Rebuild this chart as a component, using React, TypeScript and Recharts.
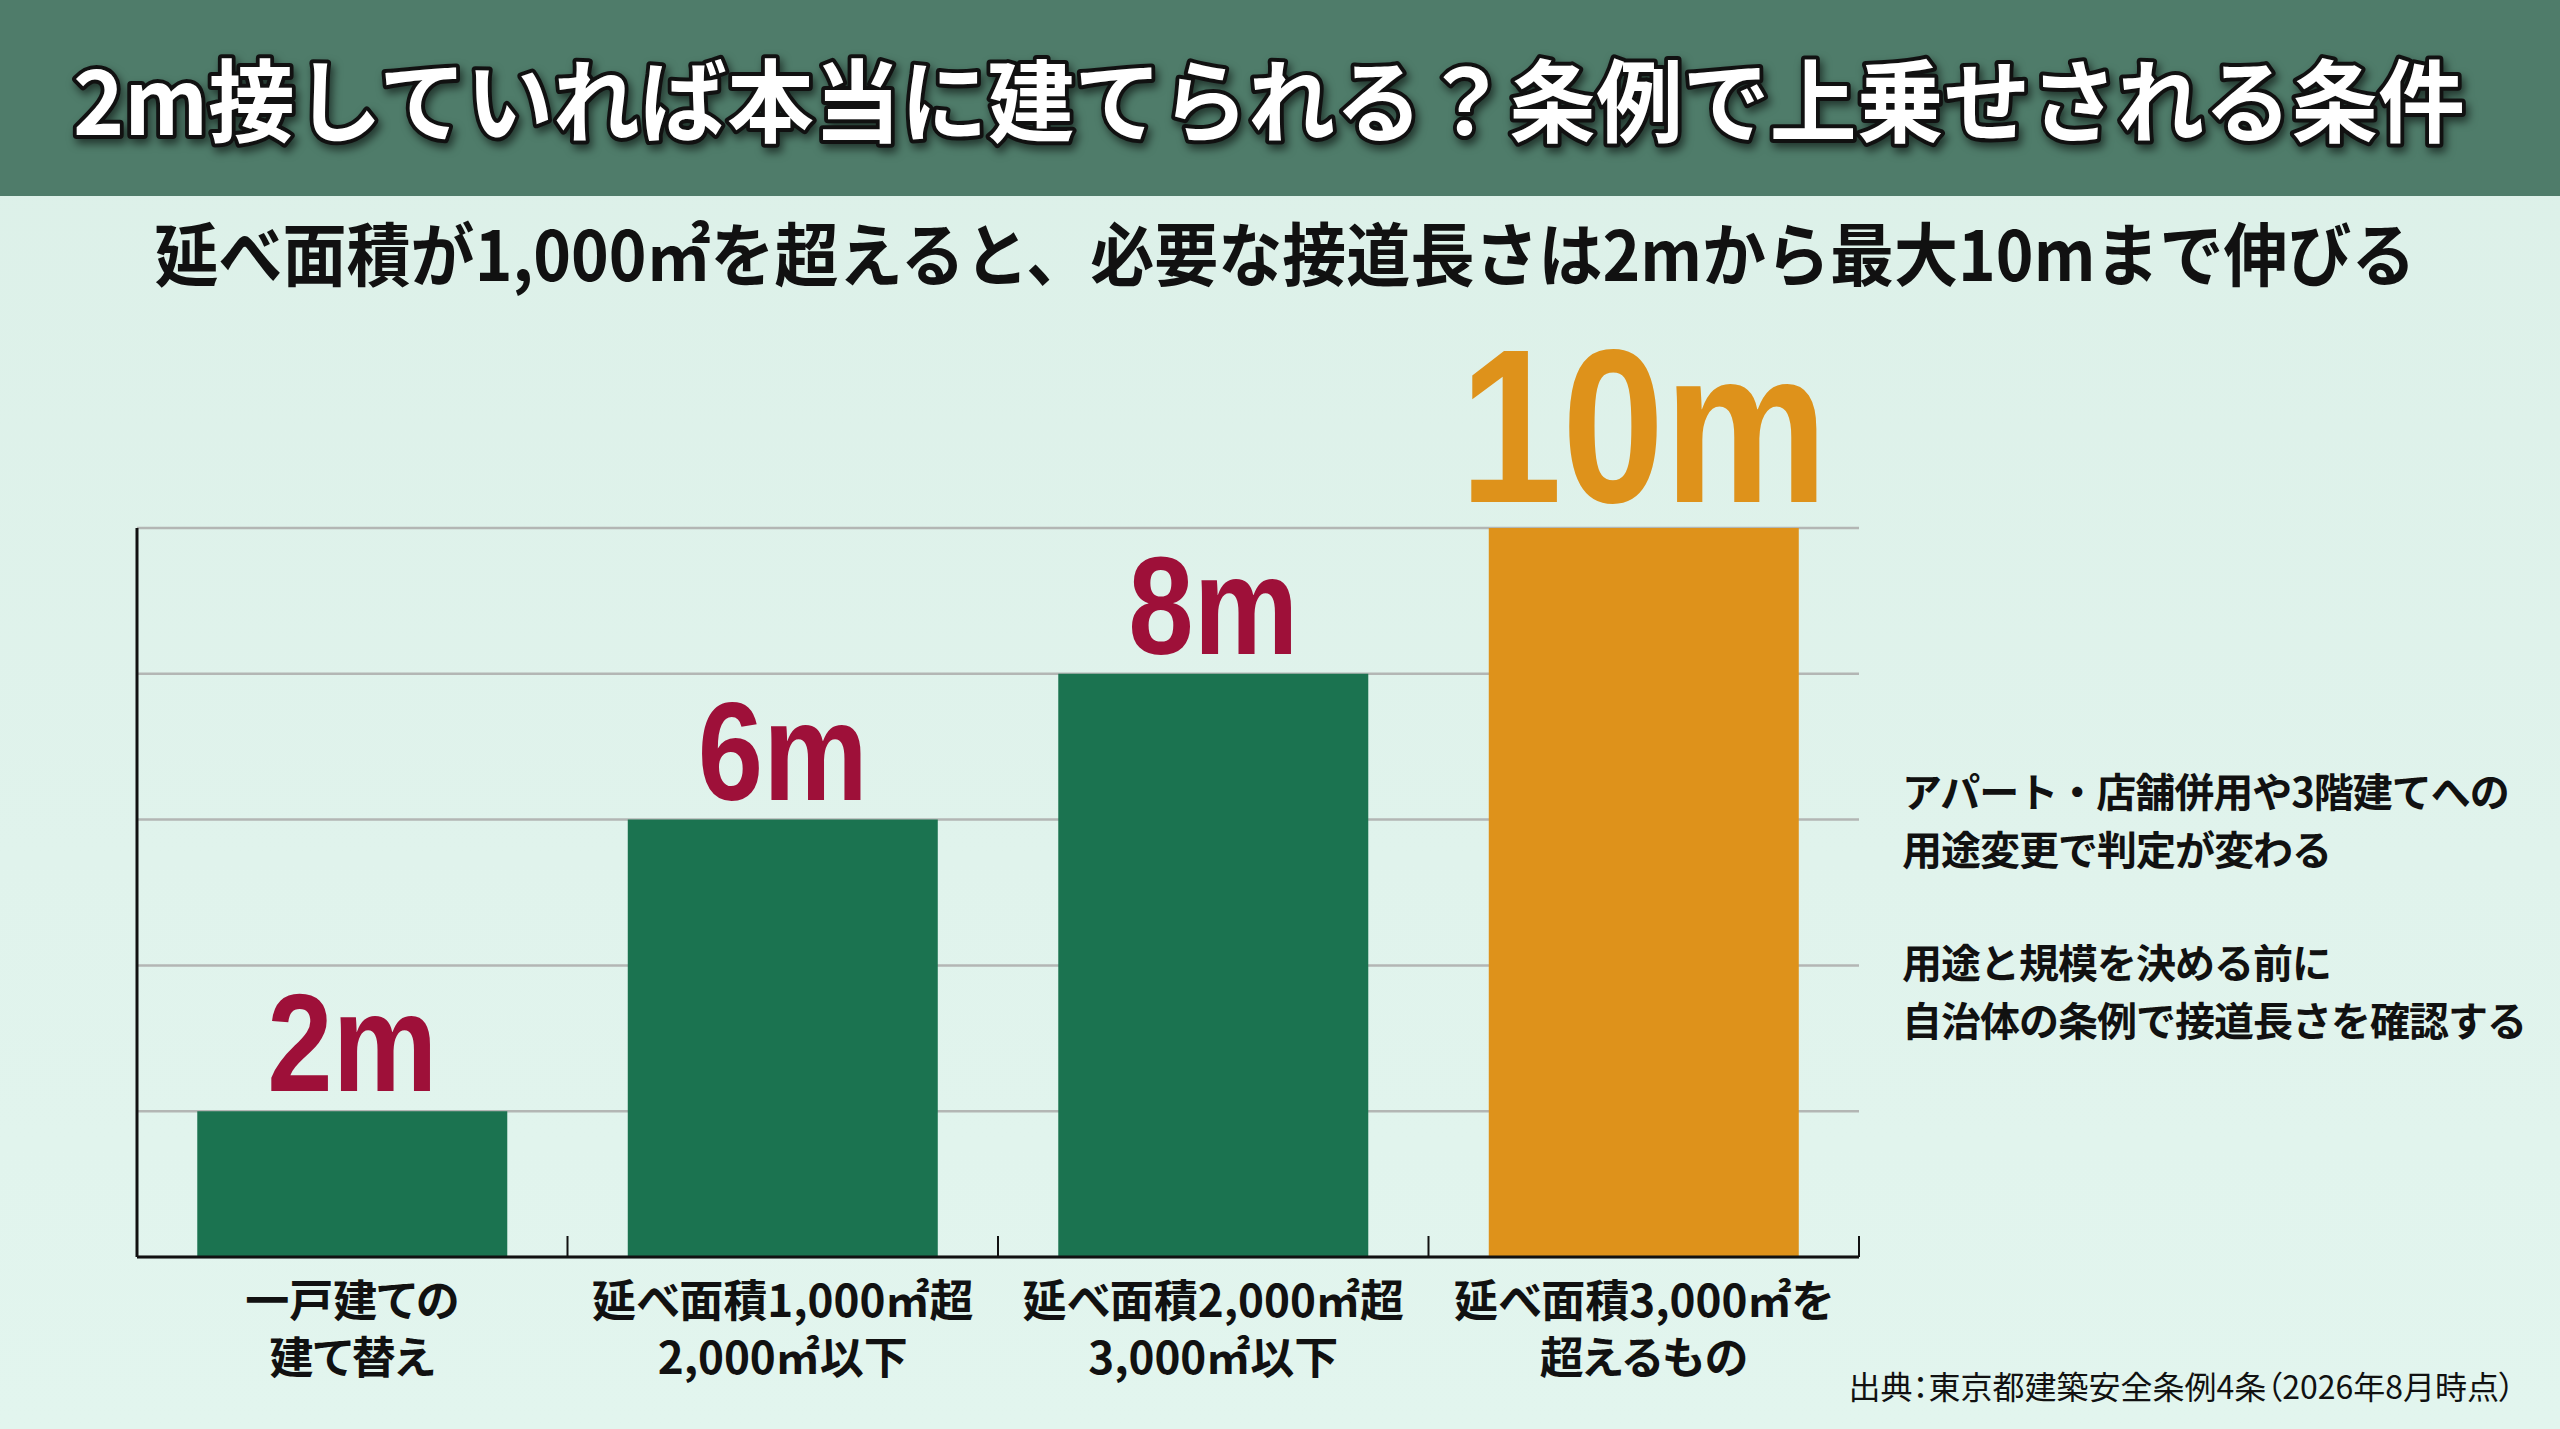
import { Bar, BarChart, CartesianGrid, Cell, LabelList, XAxis, YAxis } from 'recharts'

const categories = [
  ['一戸建ての', '建て替え'],
  ['延べ面積1,000㎡超', '2,000㎡以下'],
  ['延べ面積2,000㎡超', '3,000㎡以下'],
  ['延べ面積3,000㎡を', '超えるもの'],
]
const frontage = [2, 6, 8, 10]
const yTicks = [0, 2, 4, 6, 8, 10]
const unit = 'm'

const title = '2m接していれば本当に建てられる？条例で上乗せされる条件'
const subtitle = '延べ面積が1,000㎡を超えると、必要な接道長さは2mから最大10mまで伸びる'
const notes = [
  ['アパート・店舗併用や3階建てへの', '用途変更で判定が変わる'],
  ['用途と規模を決める前に', '自治体の条例で接道長さを確認する'],
]
const source = '出典：東京都建築安全条例4条（2026年8月時点）'

const data = categories.map((lines, i) => ({ name: lines.join('\n'), value: frontage[i] }))
const maxValue = Math.max(...frontage)

const W = 2560
const H = 1429
const MARGIN = { top: 528, right: 701, bottom: 0, left: 136 }
const Y_AXIS_W = 1
const X_AXIS_H = 172
const PLOT_LEFT = MARGIN.left + Y_AXIS_W
const PLOT_RIGHT = W - MARGIN.right
const PLOT_BOTTOM = H - MARGIN.bottom - X_AXIS_H
const BAND = (PLOT_RIGHT - PLOT_LEFT) / categories.length

const JP = '"Noto Sans CJK JP", "Noto Sans", sans-serif'
const GREEN = '#1b7350'
const ORANGE = '#de921b'
const CRIMSON = '#9e1039'

function CategoryTick(props: any) {
  const { x, y, payload } = props
  const lines = String(payload.value).split('\n')
  const edge = x + BAND / 2
  return (
    <g>
      {/* short upward tick at the right edge of each category */}
      <line x1={edge} x2={edge} y1={PLOT_BOTTOM} y2={PLOT_BOTTOM - 21} stroke="#111" strokeWidth={2} />
      {lines.map((line, i) => (
        <text
          key={i}
          x={x}
          y={y + 52 + i * 57}
          textAnchor="middle"
          fontFamily={JP}
          fontWeight={700}
          fontSize={44}
          fill="#111"
          style={{ fontFeatureSettings: '"palt"' }}
        >
          {line}
        </text>
      ))}
    </g>
  )
}

function ValueLabel(props: any) {
  const { x, y, width, value } = props
  const top = value === maxValue
  const size = top ? 219 : 140
  const lift = top ? 26 : 20
  return (
    <g transform={`translate(${x + width / 2}, ${y - lift}) scale(0.84, 1)`}>
      <text
        x={0}
        y={0}
        textAnchor="middle"
        fontFamily='"Liberation Sans", Arial, sans-serif'
        fontWeight={700}
        fontSize={size}
        fill={top ? ORANGE : CRIMSON}
      >
        {value}
        {unit}
      </text>
    </g>
  )
}

export default function App() {
  return (
    <div
      style={{
        position: 'absolute',
        left: 0,
        top: 0,
        width: W,
        height: H,
        overflow: 'hidden',
        background: 'linear-gradient(180deg, #dcf0e8 0%, #e0f3ec 60%, #e2f5ee 100%)',
      }}
    >
      <div style={{ position: 'absolute', left: 0, top: 0, width: W, height: 196, background: '#4f7c6a' }} />

      <div style={{ position: 'absolute', left: 0, top: 0 }}>
        <BarChart width={W} height={H} data={data} margin={MARGIN} barCategoryGap="14%">
          <CartesianGrid horizontal vertical={false} stroke="#b3b6b4" strokeWidth={2.5} />
          <XAxis
            dataKey="name"
            height={X_AXIS_H}
            interval={0}
            tickLine={false}
            axisLine={{ stroke: '#111', strokeWidth: 3 }}
            tick={<CategoryTick />}
          />
          <YAxis
            domain={[0, 10]}
            ticks={yTicks}
            width={Y_AXIS_W}
            tickLine={false}
            tickFormatter={() => ''}
            axisLine={{ stroke: '#111', strokeWidth: 3 }}
          />
          <Bar dataKey="value" isAnimationActive={false}>
            {data.map((d) => (
              <Cell key={d.name} fill={d.value === maxValue ? ORANGE : GREEN} />
            ))}
            <LabelList dataKey="value" content={<ValueLabel />} />
          </Bar>
        </BarChart>
      </div>

      <svg width={W} height={H} style={{ position: 'absolute', left: 0, top: 0, pointerEvents: 'none' }}>
        <text
          x={1269}
          y={135}
          textAnchor="middle"
          textLength={2392}
          lengthAdjust="spacingAndGlyphs"
          fontFamily={JP}
          fontWeight={700}
          fontSize={90}
          fill="#fff"
          stroke="#111"
          strokeWidth={8}
          strokeLinejoin="round"
          paintOrder="stroke"
          style={{ filter: 'drop-shadow(3px 5px 4px rgba(0,0,0,0.55))' }}
        >
          {title}
        </text>
        <text
          x={1285}
          y={281}
          textAnchor="middle"
          textLength={2261}
          lengthAdjust="spacingAndGlyphs"
          fontFamily={JP}
          fontWeight={700}
          fontSize={69}
          fill="#111"
        >
          {subtitle}
        </text>
        {notes.map((block, b) =>
          block.map((line, i) => (
            <text
              key={`${b}-${i}`}
              x={1902}
              y={807 + b * 171 + i * 58}
              fontFamily={JP}
              fontWeight={700}
              fontSize={40}
              fill="#111"
              letterSpacing={-1}
            >
              {line}
            </text>
          )),
        )}
        <text
          x={2515}
          y={1399}
          textAnchor="end"
          fontFamily={JP}
          fontWeight={400}
          fontSize={32}
          fill="#111"
          style={{ fontFeatureSettings: '"palt"' }}
        >
          {source}
        </text>
      </svg>
    </div>
  )
}
